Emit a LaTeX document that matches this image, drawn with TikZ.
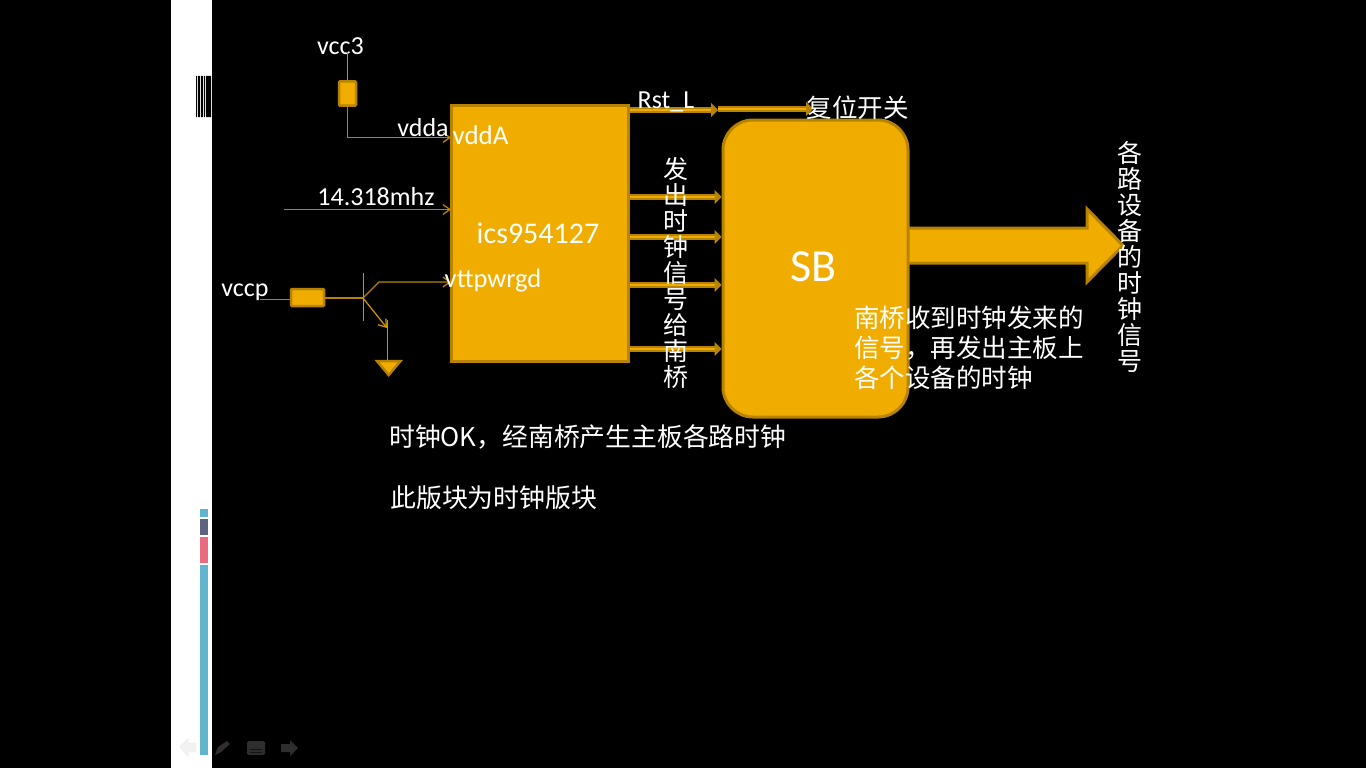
\documentclass[tikz,border=0pt]{standalone}
\usepackage{fontspec}
\setmainfont{Carlito}
\newfontfamily\cjk{Noto Sans CJK SC}
\usepackage{tikz}
\usetikzlibrary{arrows.meta,calc}
\definecolor{amber}{HTML}{F0AD00}
\definecolor{amberdark}{HTML}{B88400}
\definecolor{barteal}{HTML}{62B5CE}
\definecolor{barslate}{HTML}{5C6480}
\definecolor{barpink}{HTML}{EA6A80}
\definecolor{icondark}{HTML}{2E2E2E}
\newcommand{\fsz}[1]{\fontsize{#1}{#1}\selectfont}
\tikzset{
 block/.style={fill=amber,draw=amberdark,line width=3pt,inner sep=0pt,minimum width=#1},
 part/.style={fill=amber,draw=amberdark,line width=2.5pt,inner sep=0pt,rounded corners=1pt},
 lab/.style={white,inner sep=0pt,font=\fsz{26}},
 note/.style={white,inner sep=0pt,align=left,font=\fsz{25}\cjk},
 stack/.style={white,inner sep=0pt,align=center,font=\fontsize{25}{26}\selectfont\cjk},
 wire/.style={amberdark,line width=1.3pt},
 sig/.style={-{Straight Barb[length=7pt,width=10pt]},wire},
 bus/.style={-{Triangle[length=7pt,width=14pt]},draw=amberdark,double=amber,double distance=1.6pt,line width=2.2pt}
}
\begin{document}
\begin{tikzpicture}[x=1pt,y=-1pt]
 \useasboundingbox (0,0) rectangle (1366,768);
 \fill[black] (0,0) rectangle (1366,768);
 % side panel
 \fill[white] (171,0) rectangle (212,768);
 \fill[black] (196,76) rectangle (197,117) (198,76) rectangle (200,117) (201,76) rectangle (203,117) (204,76) rectangle (205,117) (206,76) rectangle (211,117);
 \fill[barteal] (200,509) rectangle (208,517);
 \fill[barslate] (200,519) rectangle (208,535);
 \fill[barpink] (200,537) rectangle (208,563);
 \fill[barteal] (200,565) rectangle (208,755);
 % player icons
 \fill[gray!10,draw=gray!18] (180,747) -- (188,739) -- (188,743) -- (196,743) -- (196,752) -- (188,752) -- (188,756) -- cycle;
 \fill[icondark] (215,755) -- (218,747) -- (227,741) -- (230,744) -- (221,752) -- cycle;
 \fill[icondark,rounded corners=1.5pt] (247,741) rectangle (265,755);
 \draw[black!60!icondark] (250,749) -- (262,749) (250,752) -- (262,752);
 \fill[icondark] (298,748) -- (290,740) -- (290,744) -- (281,744) -- (281,752) -- (290,752) -- (290,756) -- cycle;
 % big arrow, behind the SB block
 \draw[fill=amber,draw=amberdark,line width=3pt,miter limit=5] (905,228) -- (1087,228) -- (1087,209) -- (1123,245.5) -- (1087,282) -- (1087,263) -- (905,263) -- cycle;
 % main blocks
 \node[block=177pt,minimum height=256pt] (chip) at (539.5,233) {};
 \node[block=185pt,minimum height=297pt,rounded corners=30pt] (sb) at (815.5,268.5) {};
 \node[white,inner sep=0pt,font=\fsz{30}] (chipname) at (538,233) {ics954127};
 \node[white,inner sep=0pt,font=\fsz{46}] (sbname) at (813.5,267) {SB};
 % vcc3 branch
 \node[lab] (vcc) at (340.5,46) {vcc3};
 \node[part,minimum width=17pt,minimum height=24pt] (rone) at (347.5,93.5) {};
 \coordinate (vddin) at (451,137.5);
 \coordinate (vcctop) at (347.5,52);
 \draw[wire,amber!85!black,line width=1pt] (vcctop) -- (rone.north);
 \draw[sig] (rone.south) |- (vddin);
 \node[lab] (vdda) at (423,128) {vdda};
 \node[lab,font=\fsz{27}] (vddA) at (480.5,135) {vddA};
 % crystal input
 \coordinate (xtalin) at (284,209.5);
 \coordinate (xtalend) at (451,209.5);
 \draw[sig] (xtalin) -- (xtalend);
 \node[lab] (xtal) at (376,197) {14.318mhz};
 % vccp branch
 \node[part,minimum width=33pt,minimum height=17pt] (rtwo) at (307.5,297.5) {};
 \coordinate (vccpend) at (260,299.5);
 \coordinate (base) at (363,298);
 \coordinate (colbend) at (379,282);
 \coordinate (pgood) at (451,282);
 \coordinate (emit) at (387,328);
 \coordinate (gndtop) at (387.5,320);
 \coordinate (gnd) at (387.5,360);
 \draw[wire] (vccpend) -- (rtwo.west |- vccpend);
 \draw[wire] (rtwo.east |- base) -- (base);
 \draw[amber!85!black,line width=1pt] ($(base)+(0,-25)$) -- ($(base)+(0,23)$);
 \draw[sig] (base) -- (colbend) -- (pgood);
 \draw[sig,amber!85!black] (base) -- (emit);
 \draw[wire,amber!85!black,line width=1pt] (gndtop) -- (gnd);
 \path[fill=amber,draw=amberdark,line width=2.5pt] (377,361) -- (400.5,361) -- (388.7,375) -- cycle;
 \node[lab] (vccp) at (245,292) {vccp};
 \node[lab,font=\fsz{26.5}] (pwrgd) at (493,281) {vttpwrgd};
 % outputs
 \coordinate (rstmid) at (718,110);
 \coordinate (rstend) at (813,109);
 \draw[bus] (chip.east |- rstmid) -- (rstmid);
 \draw[bus] (rstmid |- rstend) -- (rstend);
 \foreach \y in {197,237,285,349} {
  \draw[bus] (chip.east |- 0,\y) -- (sb.west |- 0,\y);
 }
 \node[lab] (rst) at (666,102) {Rst\_L};
 \node[white,inner sep=0pt,font=\fontsize{25.5}{26}\selectfont\cjk] (rsw) at (857.5,108) {复位开关};
 \node[stack] (clkout) at (676,273) {发\\出\\时\\钟\\信\\号\\给\\南\\桥};
 \node[stack] (devclk) at (1130,256.5) {各\\路\\设\\备\\的\\时\\钟\\信\\号};
 % notes
 \node[note,anchor=west,font=\fontsize{25.5}{30}\selectfont\cjk] (sbnote) at (854,348) {南桥收到时钟发来的\\信号，再发出主板上\\各个设备的时钟};
 \node[note,anchor=west,font=\fsz{25.8}\cjk] (oknote) at (389,437) {时钟OK，经南桥产生主板各路时钟};
 \node[note,anchor=west,font=\fsz{25.9}\cjk] (board) at (390,498) {此版块为时钟版块};
\end{tikzpicture}
\end{document}
